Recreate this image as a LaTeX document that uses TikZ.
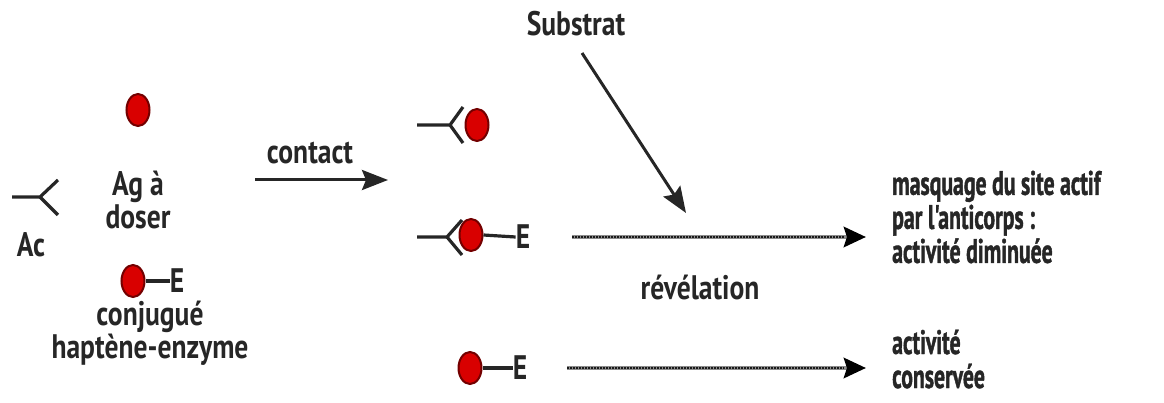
\documentclass[tikz,border=0pt]{standalone}
\usepackage{fontspec}
\setmainfont{PT Sans}[FakeStretch=0.81]
\newfontfamily\narrowfont{PT Sans}[FakeStretch=0.64, FakeBold=1.2]
\usetikzlibrary{arrows.meta,shapes.geometric,calc}
\tikzset{
  txt/.style={inner sep=0pt, text=black!85, align=center, font=\fontsize{34}{32.5}\bfseries\selectfont},
  ltxt/.style={txt, align=left, anchor=west, font=\narrowfont\fontsize{34}{34}\bfseries\selectfont},
  dot/.style={ellipse, minimum width=23pt, minimum height=32pt, inner sep=0pt, fill=red!85!black, draw=black!55!red, line width=2pt},
  bond/.style={line width=3.2pt, black!85},
  arr/.style={line width=3pt, black!85, -{Stealth[length=26pt,width=20pt,inset=4pt]}},
  dotarr/.style={line width=4.5pt, black!45, -{Stealth[length=22pt,width=20pt,inset=3pt,black]}},
  dotover/.style={line width=1.8pt, black!90, dash pattern=on 1.5pt off 1.5pt},
}
\begin{document}
\begin{tikzpicture}[x=1pt,y=-1pt]
\useasboundingbox (0,0) rectangle (1164,403);
% --- reactants
\draw[bond] (12,197) -- (40,197) -- (58,180);
\draw[bond] (40,197) -- (58,215);
\node[txt] (ac) at (31,245) {Ac};
\node[dot] (ag) at (138,110) {};
\node[txt] (agt) at (138,200) {Ag à\\doser};
\node[dot] (cj) at (133,281) {};
\node[txt] (e0) at (177,281) {E};
\draw[bond] (cj.east) -- (e0.west);
\node[txt] (cjt) at (150,333) {conjugué\\haptène-enzyme};
% --- contact arrow
\node[txt] (contact) at (310,153) {contact};
\coordinate (c1) at (255,180);
\coordinate (c2) at (388,180);
\draw[arr] (c1) -- (c2);
% --- complex 1
\draw[bond] (417,125) -- (450,125) -- (463,107);
\draw[bond] (450,125) -- (463,143);
\node[dot] (d1) at (477,125) {};
% --- complex 2
\draw[bond] (417,237) -- (447,237) -- (462,220);
\draw[bond] (447,237) -- (462,255);
\node[dot] (d2) at (471,235) {};
\node[txt] (e2) at (523,237) {E};
\draw[bond] (d2.east) -- (e2.west);
% --- free conjugate
\node[dot] (d3) at (470,368) {};
\node[txt] (e3) at (520,368) {E};
\draw[bond] (d3.east) -- (e3.west);
% --- substrate
\node[txt] (sub) at (576,24) {Substrat};
\coordinate (s1) at (582,53);
\coordinate (s2) at (686,213);
\draw[arr] (s1) -- (s2);
% --- revelation arrows
\coordinate (r1a) at (572,237);
\coordinate (r1b) at (866,237);
\draw[dotarr] (r1a) -- (r1b);
\draw[dotover] (r1a) -- ($(r1b)+(-22,0)$);
\node[txt] (rev) at (700,287) {révélation};
\coordinate (r2a) at (567,368);
\coordinate (r2b) at (866,368);
\draw[dotarr] (r2a) -- (r2b);
\draw[dotover] (r2a) -- ($(r2b)+(-22,0)$);
% --- results
\node[ltxt] (res1) at (892,217) {masquage du site actif\\par l'anticorps :\\activité diminuée};
\node[ltxt] (res2) at (892,359) {activité\\conservée};
\end{tikzpicture}
\end{document}
